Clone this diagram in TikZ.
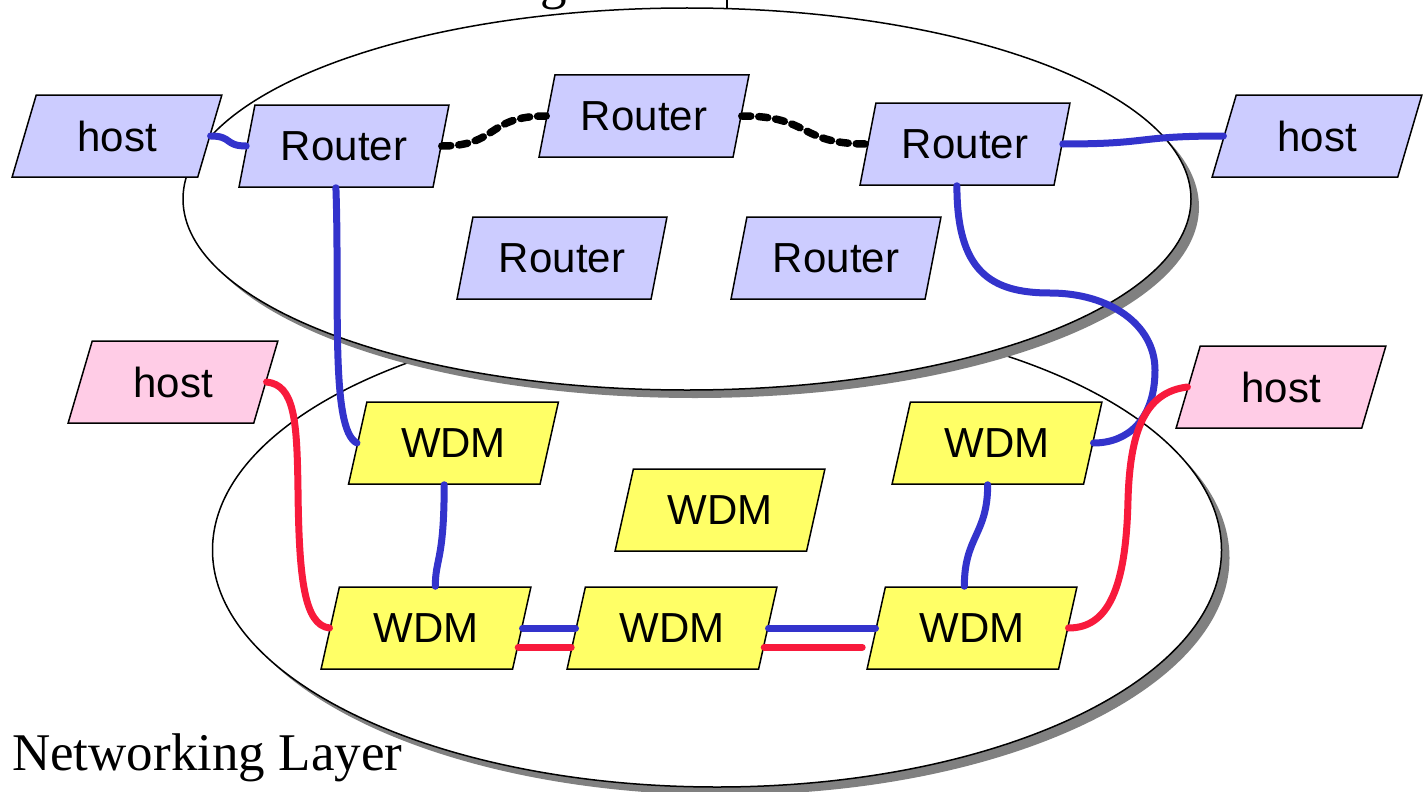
\documentclass[tikz,border=0pt]{standalone}
\usepackage{fontspec}
\setmainfont{Liberation Serif}
\newfontfamily\arialfont{Liberation Sans}
\usetikzlibrary{shapes.geometric,calc}
\definecolor{routerfill}{HTML}{CCCCFF}
\definecolor{hostpink}{HTML}{FFCCE6}
\definecolor{wdmfill}{HTML}{FFFF66}
\definecolor{linkblue}{HTML}{3333CC}
\definecolor{linkred}{HTML}{F81A3C}
\definecolor{shadowgray}{HTML}{808080}
\begin{document}
\begin{tikzpicture}[x=1pt,y=-1pt,
  box/.style={trapezium, trapezium left angle=69, trapezium right angle=111,
    trapezium stretches=true, minimum width=210pt, minimum height=82pt,
    inner sep=0pt, draw=black, line width=1.5pt,
    font=\arialfont\fontsize{42}{48}\selectfont},
  rbox/.style={box, fill=routerfill},
  hbox/.style={box, fill=hostpink},
  wbox/.style={box, fill=wdmfill},
  layer/.style={draw=black, line width=1.5pt, fill=white},
  layershadow/.style={fill=shadowgray},
  bl/.style={draw=linkblue, line width=7pt, line cap=round},
  rd/.style={draw=linkred, line width=7pt, line cap=round},
  dsh/.style={draw=black, line width=7.5pt, line cap=round, dash pattern=on 9pt off 8pt},
  lbl/.style={inner sep=0pt, font=\fontsize{53}{60}\selectfont}
]
\useasboundingbox (0,0) rectangle (1427,792);
\fill[white] (0,0) rectangle (1427,792);

% lower layer
\fill[layershadow] (725,558) ellipse [x radius=504.5pt, y radius=237pt];
\draw[layer] (717,550) ellipse [x radius=504.5pt, y radius=237pt];
% upper layer
\fill[layershadow] (695,207) ellipse [x radius=504pt, y radius=191pt];
\draw[layer] (687,199) ellipse [x radius=504pt, y radius=191pt];

\draw[line width=1.2pt] (727,-5) -- (727,8.5);
\node[lbl, anchor=base east] (title) at (567,-1.5) {Routing};
\node[lbl, anchor=base west] (netlabel) at (12,770) {Networking Layer};

% router layer nodes
\node[rbox] (hostL) at (117,136) {host};
\node[rbox] (RL) at (344,146) {Router};
\node[rbox] (RM) at (644,116) {Router};
\node[rbox] (RR) at (965,144) {Router};
\node[rbox] (hostR) at (1317,136) {host};
\node[rbox] (R4) at (562,258) {Router};
\node[rbox] (R5) at (836,258) {Router};

% lower layer nodes
\node[hbox] (pL) at (173,382) {host};
\node[hbox] (pR) at (1281,387) {host};
\node[wbox] (W1) at (426,628) {WDM};
\node[wbox] (W2) at (672,628) {WDM};
\node[wbox] (W3) at (972,628) {WDM};
\node[wbox] (W4) at (453.5,443) {WDM};
\node[wbox] (W5) at (720,510) {WDM};
\node[wbox] (W6) at (997,443) {WDM};

% connectors
\draw[bl] (hostL.right side) .. controls +(22,0) and +(-22,0) .. (RL.left side);
\draw[dsh] (RL.right side) .. controls +(57,0) and +(-60,0) .. (RM.left side);
\draw[dsh] (RM.right side) .. controls +(70,0) and +(-70,0) .. (RR.left side);
\draw[bl] (RR.right side) .. controls +(90,0) and +(-90,0) .. (hostR.left side);
\draw[bl] (RL.bottom side) .. controls +(4,113) and +(-27,-13) .. (W4.left side);
\draw[bl] (RR.bottom side) .. controls +(0,85) and +(-60,0) .. (1050,293)
   .. controls +(60,0) and +(0,-45) .. (1155,370)
   .. controls +(0,50) and +(34,0) .. (W6.right side);
\draw[rd] (pL.right side) .. controls +(28,3) and +(-1,-70) .. (298,490)
   .. controls +(1,90) and +(-25,-3) .. (W1.left side);
\draw[rd] (pR.left side) .. controls +(-42,5) and +(2,-70) .. (1128,500)
   .. controls +(-2,90) and +(39,0) .. (W3.right side);
\draw[bl] (W4.bottom side) .. controls +(0,76) and +(0,-28) .. (W1.top side);
\draw[bl] (W6.bottom side) .. controls +(0,50) and +(0,-50) .. ($(W3.top side)+(-17,0)$);
\draw[bl] (W1.right side) -- (W2.left side);
\draw[rd] ($(W1.top right corner)!0.73!(W1.bottom right corner)$) -- ($(W2.top left corner)!0.73!(W2.bottom left corner)$);
\draw[bl] (W2.right side) -- (W3.left side);
\draw[rd] ($(W2.top right corner)!0.73!(W2.bottom right corner)$) -- ($(W3.top left corner)!0.73!(W3.bottom left corner)+(-9,0)$);
\end{tikzpicture}
\end{document}
